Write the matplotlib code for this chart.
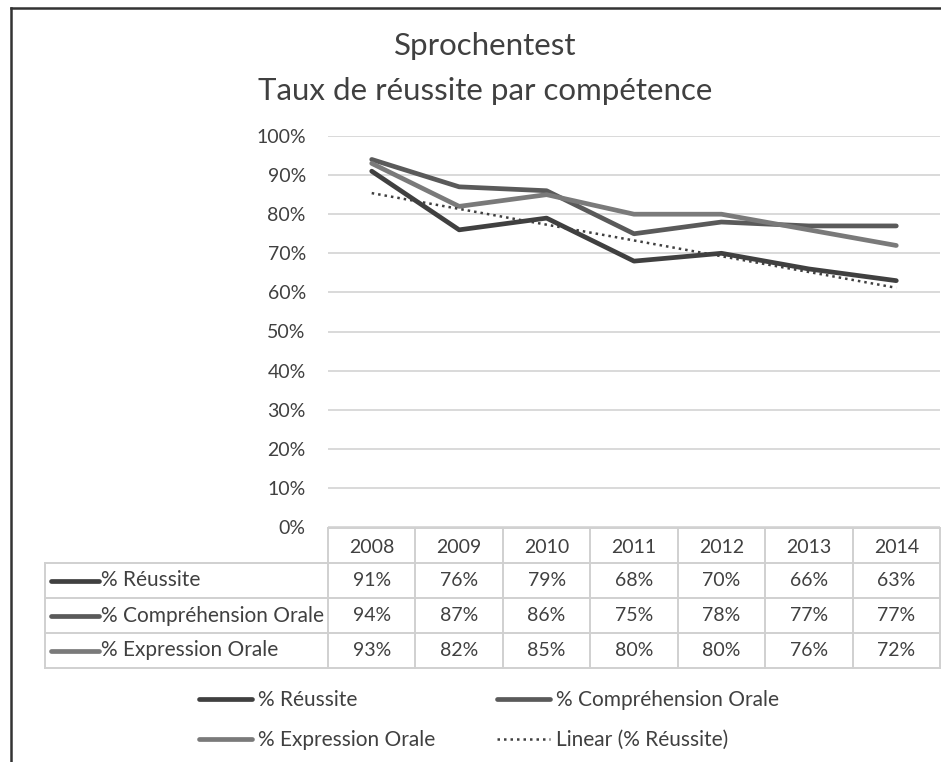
import numpy as np
import matplotlib
matplotlib.use("Agg")
import matplotlib.pyplot as plt
from matplotlib.lines import Line2D

plt.rcParams['font.family'] = ['Lato', 'DejaVu Sans']

annees = ['2008', '2009', '2010', '2011', '2012', '2013', '2014']
reussite = [91, 76, 79, 68, 70, 66, 63]
comprehension = [94, 87, 86, 75, 78, 77, 77]
expression = [93, 82, 85, 80, 80, 76, 72]
noms = ['% Réussite', '% Compréhension Orale', '% Expression Orale']
couleurs = ['#404040', '#5a5a5a', '#7a7a7a']
titre = 'Sprochentest\nTaux de réussite par compétence'

W, H = 941, 762
fig = plt.figure(figsize=(W / 100, H / 100), dpi=100)

def fx(px):
    return px / W

def fy(py):
    return 1 - py / H

# zone du graphique
ax = fig.add_axes([fx(328), fy(527), fx(940) - fx(328), fy(136) - fy(527)])
x = np.arange(len(annees))
series = [reussite, comprehension, expression]
for vals, c, n in zip(series, couleurs, noms):
    ax.plot(x, np.array(vals) / 100, color=c, lw=3.4, label=n, solid_capstyle='round')

# tendance lineaire
pente, origine = np.polyfit(x, reussite, 1)
ax.plot(x, (pente * x + origine) / 100, color='#404040', lw=1.8, ls=(0, (1, 1.6)),
        label='Linear (% Réussite)')

ax.set_xlim(-0.5, len(annees) - 0.5)
ax.set_ylim(0, 1)
ax.set_yticks(np.arange(0, 1.01, 0.1))
ax.set_yticklabels([f'{int(round(v * 100))}%' for v in np.arange(0, 1.01, 0.1)])
ax.grid(axis='y', color='#d9d9d9', lw=1.4)
ax.set_axisbelow(True)
ax.set_xticks([])
for s in ax.spines.values():
    s.set_visible(False)
ax.tick_params(axis='y', length=0, pad=16, labelsize=14, labelcolor='#404040')

fig.text(fx(485), fy(68.5), titre, ha='center', va='center', fontsize=22.5,
         color='#404040', linespacing=1.7)

# tableau de donnees
tab = fig.add_axes([fx(328), fy(668), fx(940) - fx(328), fy(528) - fy(668)])
tab.set_xlim(-0.5, len(annees) - 0.5)
tab.set_ylim(4, 0)
tab.axis('off')
gris = '#d0d0d0'
x_gauche = -0.5 - (328 - 45) / 87.4
for i in range(len(annees) + 1):
    tab.plot([i - 0.5, i - 0.5], [0, 4], color=gris, lw=1.4, clip_on=False)
tab.plot([-0.5, len(annees) - 0.5], [0, 0], color=gris, lw=1.4, clip_on=False)
for r in range(1, 5):
    tab.plot([x_gauche, len(annees) - 0.5], [r, r], color=gris, lw=1.4, clip_on=False)
tab.plot([x_gauche, x_gauche], [1, 4], color=gris, lw=1.4, clip_on=False)

for i, a in enumerate(annees):
    tab.text(i, 0.55, a, ha='center', va='center', fontsize=14, color='#404040')
for r, (vals, c, n) in enumerate(zip(series, couleurs, noms)):
    yy = r + 1.5
    for i, v in enumerate(vals):
        tab.text(i, yy, f'{v}%', ha='center', va='center', fontsize=14, color='#404040')
    x0 = x_gauche + 6 / 87.4
    tab.plot([x0, x0 + 48 / 87.4], [yy, yy], color=c, lw=3.4, clip_on=False,
             solid_capstyle='round')
    tab.text(x0 + 50 / 87.4, yy, n, ha='left', va='center', fontsize=15, color='#404040')

# legende
handles, labels = ax.get_legend_handles_labels()
ordre = [0, 2, 1, 3]
fig.legend([handles[k] for k in ordre], [labels[k] for k in ordre], ncol=2,
           loc='center', bbox_to_anchor=(fx(489), fy(720)), frameon=False,
           fontsize=15, labelcolor='#404040', handlelength=2.55, handletextpad=0.3,
           columnspacing=2.95, labelspacing=0.95)

# cadre
fig.add_artist(Line2D([fx(11), fx(11)], [0, fy(8)], color='#333333', lw=1.8))
fig.add_artist(Line2D([fx(11), 1], [fy(8), fy(8)], color='#333333', lw=1.8))

fig.savefig('out.png', dpi=100)
